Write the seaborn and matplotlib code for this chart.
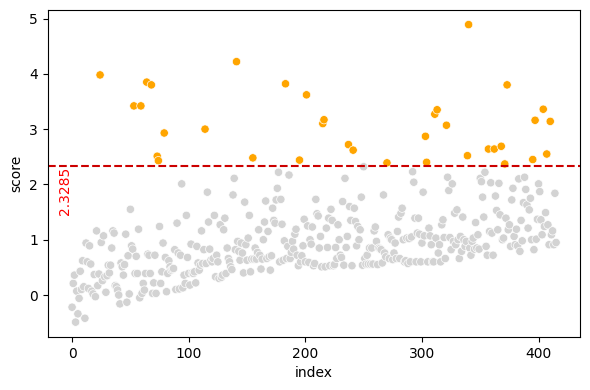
import numpy as np
import pandas as pd
import seaborn as sns
import matplotlib.pyplot as plt

plt.switch_backend("Agg")

# scores, in index order (0..415)
score_000_062 = [
    -0.22, 0.21, 0.36, -0.49, 0.07, -0.34, -0.06, 0.43, 0.10, 0.62,
    0.15, -0.42, 0.94, 0.60, 0.12, 0.89, 0.56, 0.07, 0.02, 0.37,
    -0.03, 1.16, 0.17, 0.38, 3.98, 0.95, 0.26, 1.07, 0.33, 0.05,
    0.35, 0.54, 0.40, 0.54, 0.85, 1.16, 1.12, 0.17, 0.15, 0.09,
    0.00, -0.16, 0.58, 0.51, 0.36, 0.55, 1.10, -0.13, 0.71, 0.02,
    1.55, 0.89, 0.83, 3.42, 0.39, 0.70, 0.39, 1.19, -0.05, 3.42,
    0.03, 0.21, 0.09,
]
score_063_139 = [
    0.39, 3.85, 0.74, 0.72, 0.39, 3.80, 0.03, 0.22, 0.72, 0.03,
    2.51, 2.43, 1.24, 0.21, 0.42, 0.94, 2.93, 0.68, 0.06, 0.39,
    0.62, 0.51, 0.45, 0.47, 0.48, 0.82, 0.10, 1.30, 0.76, 0.11,
    0.72, 2.01, 0.13, 0.36, 0.21, 1.44, 0.68, 0.39, 0.18, 0.92,
    0.40, 0.39, 0.42, 0.22, 0.88, 0.58, 0.45, 0.54, 1.16, 0.57,
    0.82, 3.00, 0.57, 1.86, 1.32, 0.83, 0.63, 0.60, 0.66, 1.44,
    0.33, 0.72, 0.60, 0.30, 1.27, 0.32, 0.36, 1.18, 1.39, 0.39,
    0.85, 0.66, 0.60, 0.51, 0.46, 1.81, 2.11,
]
score_140_216 = [
    0.82, 4.22, 0.97, 0.79, 0.63, 0.94, 0.76, 0.40, 1.68, 0.91,
    0.63, 1.03, 1.44, 0.42, 0.65, 2.48, 0.65, 0.85, 0.65, 0.77,
    1.18, 0.72, 0.47, 0.65, 1.00, 1.32, 1.70, 0.66, 1.15, 0.69,
    0.45, 0.71, 1.57, 1.35, 1.30, 1.72, 1.93, 2.22, 0.60, 1.73,
    1.28, 0.63, 0.98, 3.82, 0.66, 0.88, 2.17, 0.66, 0.77, 0.97,
    0.83, 1.10, 1.19, 0.72, 0.53, 2.44, 0.60, 0.71, 0.89, 1.37,
    0.60, 3.62, 1.25, 0.59, 1.00, 0.92, 1.23, 0.53, 0.57, 1.73,
    1.47, 1.43, 0.85, 1.06, 0.51, 3.10, 3.17,
]
score_217_293 = [
    0.51, 1.21, 0.86, 1.39, 0.53, 1.55, 1.35, 0.53, 0.55, 0.86,
    0.66, 1.27, 1.00, 0.72, 0.68, 1.69, 0.54, 2.11, 0.86, 1.06,
    2.72, 1.60, 1.35, 0.53, 2.62, 1.57, 1.33, 0.89, 1.24, 1.00,
    1.18, 1.77, 0.54, 2.32, 0.66, 0.56, 0.72, 0.56, 0.85, 0.56,
    0.85, 0.56, 1.16, 1.23, 0.97, 0.55, 0.85, 0.84, 0.82, 0.58,
    1.81, 0.76, 0.69, 2.39, 1.09, 0.66, 1.03, 1.00, 0.64, 0.76,
    0.94, 0.66, 1.15, 1.41, 0.66, 1.48, 1.57, 1.00, 0.60, 0.62,
    1.03, 0.57, 1.02, 0.60, 1.05, 2.23, 2.04,
]
score_294_370 = [
    1.39, 0.60, 1.12, 1.39, 1.10, 0.60, 0.94, 1.86, 1.07, 2.87,
    2.40, 0.60, 1.21, 1.07, 0.91, 0.60, 0.60, 3.27, 1.03, 3.35,
    0.76, 0.91, 0.60, 1.27, 1.36, 1.04, 0.66, 3.07, 2.13, 1.89,
    1.04, 0.82, 2.01, 0.97, 1.48, 0.91, 1.54, 1.00, 0.66, 1.06,
    0.79, 1.41, 1.00, 0.88, 0.97, 2.52, 4.89, 0.85, 0.72, 0.97,
    1.03, 0.83, 1.31, 0.85, 1.09, 0.83, 2.11, 2.05, 1.77, 1.41,
    2.22, 0.88, 0.72, 2.64, 1.15, 2.03, 1.12, 0.72, 2.64, 1.79,
    1.53, 1.18, 2.02, 1.45, 2.69, 1.00, 1.03,
]
score_371_415 = [
    2.37, 1.39, 3.80, 1.18, 1.27, 0.88, 1.72, 1.93, 1.06, 0.91,
    1.19, 0.89, 2.10, 0.79, 1.35, 0.98, 1.67, 2.13, 1.91, 1.63,
    1.21, 1.54, 1.75, 1.00, 2.45, 0.82, 3.16, 1.01, 1.37, 2.01,
    1.87, 1.36, 1.09, 3.36, 1.24, 1.49, 2.55, 1.27, 0.91, 3.14,
    1.09, 1.16, 0.91, 1.84, 0.95,
]
threshold = 2.3285

scores = (score_000_062 + score_063_139 + score_140_216
          + score_217_293 + score_294_370 + score_371_415)
df = pd.DataFrame({"index": np.arange(len(scores)), "score": scores})
df["flag"] = np.where(df["score"] > threshold, "high", "normal")

fig, ax = plt.subplots(figsize=(5.9, 3.9), dpi=100)
sns.scatterplot(data=df, x="index", y="score", hue="flag",
                palette={"high": "orange", "normal": "lightgray"},
                legend=False, ax=ax)
ax.axhline(threshold, color="#cc0000", linestyle="--", linewidth=1.5)
ax.text(0, threshold, f"{threshold}", rotation=90, color="red",
        ha="right", va="top", fontsize=10)
ax.set_xlabel("index")
ax.set_ylabel("score")
plt.tight_layout(pad=0.7)
plt.savefig("out.png")
